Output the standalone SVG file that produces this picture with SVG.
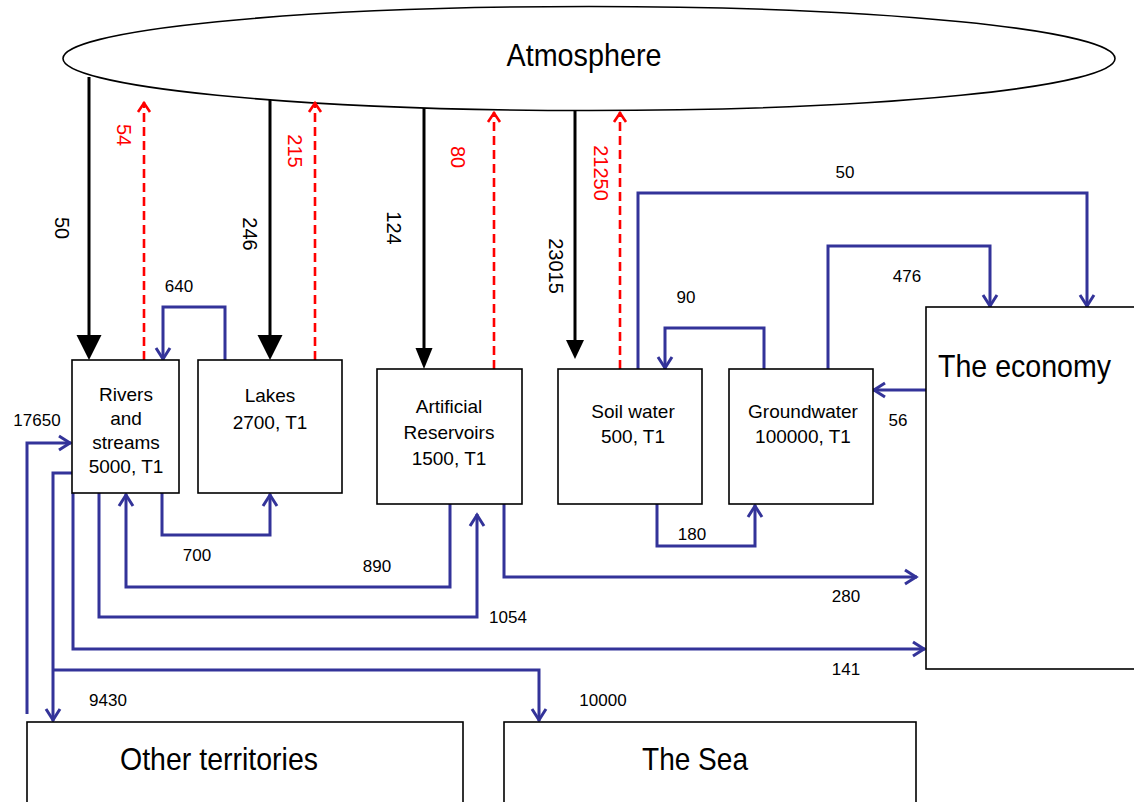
<svg xmlns="http://www.w3.org/2000/svg" width="1134" height="802" viewBox="0 0 1134 802">
<style>
text{font-family:"Liberation Sans",Arial,sans-serif;fill:#000}
.box{fill:#fff;stroke:#000;stroke-width:1.6}
.bt{font-size:19px;text-anchor:middle}
.lb{font-size:17px;text-anchor:middle}
.rl{font-size:20px;text-anchor:middle}
.red{fill:#ff0000}
.big{font-size:32px}
.blue{fill:none;stroke:#333399;stroke-width:3;marker-end:url(#ab)}
.bluen{fill:none;stroke:#333399;stroke-width:3}
.rd{fill:none;stroke:#ff0000;stroke-width:2.6;stroke-dasharray:9 5;marker-end:url(#ar)}
.bk{stroke:#000;stroke-width:3;fill:none}
</style>
<defs>
<marker id="ab" markerUnits="userSpaceOnUse" markerWidth="20" markerHeight="20" viewBox="-16 -10 20 20" refX="0" refY="0" orient="auto">
<path d="M-12,-7 L-1,0 L-12,7" fill="none" stroke="#333399" stroke-width="3"/>
</marker>
<marker id="ar" markerUnits="userSpaceOnUse" markerWidth="20" markerHeight="20" viewBox="-16 -10 20 20" refX="0" refY="0" orient="auto">
<path d="M-10,-6 L-1,0 L-10,6" fill="none" stroke="#ff0000" stroke-width="2.6"/>
</marker>
</defs>
<rect width="1134" height="802" fill="#fff"/>

<g id="atmosphere">
<ellipse cx="589" cy="58.5" rx="526" ry="52" fill="#fff" stroke="#000" stroke-width="1.6"/>
<text x="584" y="66" class="big" text-anchor="middle" textLength="155" lengthAdjust="spacingAndGlyphs">Atmosphere</text>
</g>

<g id="connectors">
<!-- precipitation (black) -->
<line class="bk" x1="89" y1="77" x2="89" y2="336"/>
<polygon points="76.5,335 101.5,335 89,360" fill="#000"/>
<line class="bk" x1="270" y1="100" x2="270" y2="336"/>
<polygon points="257.5,335 282.5,335 270,360" fill="#000"/>
<line class="bk" x1="424" y1="108" x2="424" y2="349"/>
<polygon points="415.5,348 432.5,348 424,369" fill="#000"/>
<line class="bk" x1="575" y1="111" x2="575" y2="341"/>
<polygon points="566,340 584,340 575,359" fill="#000"/>
<!-- evaporation (red dashed) -->
<path class="rd" d="M144,360 V102"/>
<path class="rd" d="M315,360 V102"/>
<path class="rd" d="M494,369 V112"/>
<path class="rd" d="M620,369 V112"/>
<!-- blue flows -->
<path class="blue" d="M225,360 V307 H163 V360"/>
<path class="blue" d="M162,493 V535 H270 V494"/>
<path class="blue" d="M450,504 V587 H126 V494"/>
<path class="blue" d="M99,493 V617 H477 V514"/>
<path class="blue" d="M73,493 V649 H925"/>
<path class="blue" d="M504,504 V577 H917"/>
<path class="blue" d="M72,473 H53 V721"/>
<path class="blue" d="M53,670 H539 V721"/>
<path class="blue" d="M27,714 V443 H71"/>
<path class="blue" d="M657,504 V546 H755 V505"/>
<path class="blue" d="M764,369 V328 H665 V369"/>
<path class="blue" d="M638,369 V193 H1087 V307"/>
<path class="blue" d="M828,369 V246 H990 V307"/>
<path class="blue" d="M926,390 H873"/>

<!-- rotated labels -->
<text class="rl" transform="translate(55,228) rotate(90)">50</text>
<text class="rl red" transform="translate(117,135) rotate(90)">54</text>
<text class="rl" transform="translate(243,234) rotate(90)">246</text>
<text class="rl red" transform="translate(288,151) rotate(90)">215</text>
<text class="rl" transform="translate(387,228) rotate(90)">124</text>
<text class="rl red" transform="translate(451,157) rotate(90)">80</text>
<text class="rl" transform="translate(549,266) rotate(90)">23015</text>
<text class="rl red" transform="translate(594,173) rotate(90)">21250</text>

<!-- flow labels -->
<text class="lb" x="179" y="292">640</text>
<text class="lb" x="197" y="561">700</text>
<text class="lb" x="377" y="572">890</text>
<text class="lb" x="508" y="623">1054</text>
<text class="lb" x="108" y="706">9430</text>
<text class="lb" x="37" y="426">17650</text>
<text class="lb" x="846" y="602">280</text>
<text class="lb" x="846" y="675">141</text>
<text class="lb" x="692" y="540">180</text>
<text class="lb" x="603" y="706">10000</text>
<text class="lb" x="845" y="178">50</text>
<text class="lb" x="907" y="282">476</text>
<text class="lb" x="686" y="303">90</text>
<text class="lb" x="898" y="426">56</text>
</g>

<g id="rivers">
<rect class="box" x="72" y="360" width="107" height="133"/>
<text class="bt" x="126" y="401">Rivers</text>
<text class="bt" x="126" y="425">and</text>
<text class="bt" x="126" y="449">streams</text>
<text class="bt" x="126" y="473">5000, T1</text>
</g>

<g id="lakes">
<rect class="box" x="198" y="360" width="144" height="133"/>
<text class="bt" x="270" y="402">Lakes</text>
<text class="bt" x="270" y="429">2700, T1</text>
</g>

<g id="reservoirs">
<rect class="box" x="377" y="369" width="145" height="135"/>
<text class="bt" x="449" y="413">Artificial</text>
<text class="bt" x="449" y="439">Reservoirs</text>
<text class="bt" x="449" y="465">1500, T1</text>
</g>

<g id="soil">
<rect class="box" x="558" y="369" width="144" height="135"/>
<text class="bt" x="633" y="418">Soil water</text>
<text class="bt" x="633" y="443">500, T1</text>
</g>

<g id="groundwater">
<rect class="box" x="729" y="369" width="144" height="135"/>
<text class="bt" x="803" y="418">Groundwater</text>
<text class="bt" x="803" y="443">100000, T1</text>
</g>

<g id="economy">
<rect class="box" x="926" y="307" width="220" height="362"/>
<text class="big" x="938" y="377" textLength="173" lengthAdjust="spacingAndGlyphs">The economy</text>
</g>

<g id="other-territories">
<rect class="box" x="27" y="722" width="436" height="100"/>
<text class="big" x="120" y="770" textLength="198" lengthAdjust="spacingAndGlyphs">Other territories</text>
</g>

<g id="sea">
<rect class="box" x="504" y="722" width="412" height="100"/>
<text class="big" x="642" y="770" textLength="106" lengthAdjust="spacingAndGlyphs">The Sea</text>
</g>
</svg>
